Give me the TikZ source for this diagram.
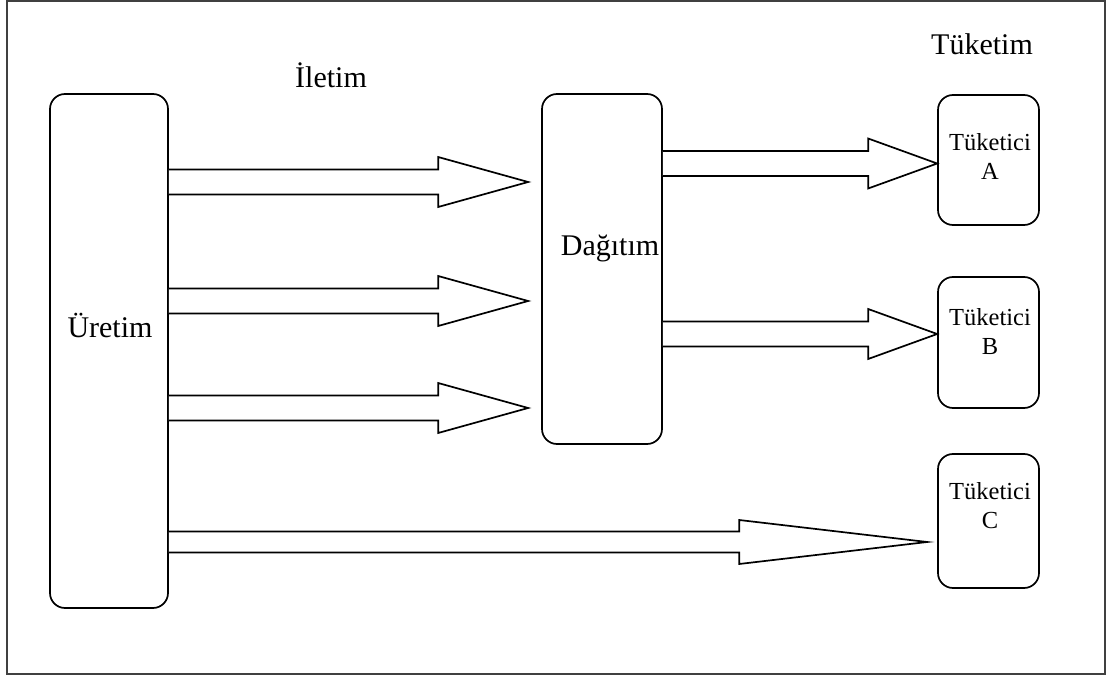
\documentclass[tikz,border=0pt]{standalone}
\usepackage{fontspec}
\setmainfont{Liberation Serif}
\usetikzlibrary{calc}

\tikzset{
  stage/.style={draw, line width=1.7pt, rounded corners=15pt, inner sep=0pt},
  bigtext/.style={font=\fontsize{30}{36}\selectfont, anchor=base, inner sep=0pt},
  smalltext/.style={font=\fontsize{24.5}{29}\selectfont, anchor=base, inner sep=0pt, align=center},
  blockarrow/.style={draw, line width=1.7pt, line join=miter, fill=white},
  frame/.style={draw=black!75, line width=1.6pt},
}

% block arrow from the x of #1 to the tip #2 (tip sets the centre line)
% #3 half shaft width, #4 half head width, #5 head length
\newcommand\flowarrow[5]{%
  \draw[blockarrow] let \p1=(#1), \p2=(#2) in
    (\x1,\y2+#3) -- (\x2-#5,\y2+#3) -- (\x2-#5,\y2+#4) -- (\p2)
    -- (\x2-#5,\y2-#4) -- (\x2-#5,\y2-#3) -- (\x1,\y2-#3);}

\begin{document}
\begin{tikzpicture}[x=1pt, y=-1pt]
  \useasboundingbox (0,0) rectangle (1109,676);
  \draw[frame] (7,1) rectangle (1105,674);

  % stages
  \node[stage, minimum width=118pt, minimum height=514pt] (U) at (109,351) {};
  \node[stage, minimum width=120pt, minimum height=350pt] (D) at (602,269) {};
  \node[stage, minimum width=101pt, minimum height=130pt] (TA) at (988.5,160) {};
  \node[stage, minimum width=101pt, minimum height=131pt] (TB) at (988.5,342.5) {};
  \node[stage, minimum width=101pt, minimum height=134pt] (TC) at (988.5,521) {};

  % labels (multi-line labels sit on the baseline of their last line)
  \node[bigtext] (iletim) at (331,88) {İletim};
  \node[bigtext] (tuketim) at (982,55) {Tüketim};
  \node[bigtext] (uretimL) at (110,338) {Üretim};
  \node[bigtext] (dagitimL) at (610,256) {Dağıtım};
  \node[smalltext] (taL) at (990,180) {Tüketici\\A};
  \node[smalltext] (tbL) at (990,355) {Tüketici\\B};
  \node[smalltext] (tcL) at (990,528) {Tüketici\\C};

  % arrow tips short of the distribution stage
  \coordinate (d1) at ($(D.west |- 0,182)+(-13,0)$);
  \coordinate (d2) at ($(D.west |- 0,301)+(-13,0)$);
  \coordinate (d3) at ($(D.west |- 0,408)+(-13,0)$);
  \coordinate (c1) at ($(TC.west |- 0,542)+(-10,0)$);

  % transmission
  \flowarrow{U.east}{d1}{12.5pt}{25pt}{90pt}
  \flowarrow{U.east}{d2}{12.5pt}{25pt}{90pt}
  \flowarrow{U.east}{d3}{12.5pt}{25pt}{90pt}
  \flowarrow{U.east}{c1}{10.5pt}{22pt}{188pt}

  % distribution
  \flowarrow{D.east}{TA.west |- 0,163.5}{12.5pt}{25pt}{69pt}
  \flowarrow{D.east}{TB.west |- 0,334}{12.5pt}{25pt}{69pt}
\end{tikzpicture}
\end{document}
